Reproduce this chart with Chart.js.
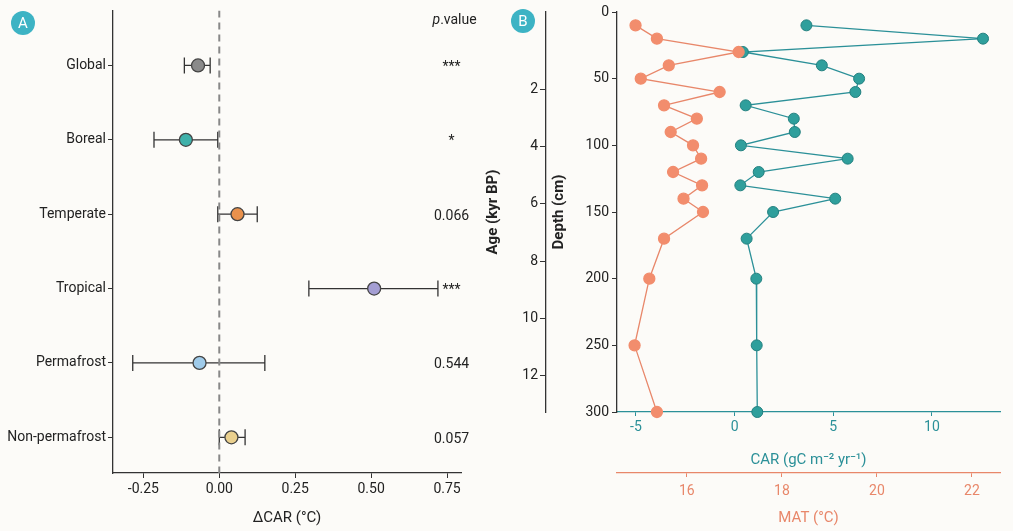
<!DOCTYPE html>
<html>
<head>
<meta charset="utf-8">
<script src="https://cdn.jsdelivr.net/npm/chart.js@4"></script>
<style>
  html, body { margin: 0; padding: 0; background: #fcfbf8; }
  #wrap { position: relative; width: 1013px; height: 531px; }
  #ca { position: absolute; left: 0; top: 0; }
  #cb { position: absolute; left: 480px; top: 0; }
</style>
</head>
<body>
<div id="wrap">
  <canvas id="ca" width="480" height="531"></canvas>
  <canvas id="cb" width="533" height="531"></canvas>
</div>
<script>
// panel A: effect sizes
const groups = ['Global', 'Boreal', 'Temperate', 'Tropical', 'Permafrost', 'Non-permafrost']
const means = [-0.07, -0.11, 0.06, 0.51, -0.065, 0.04]
const lower = [-0.115, -0.215, -0.005, 0.295, -0.285, 0.0]
const upper = [-0.03, -0.005, 0.125, 0.72, 0.15, 0.085]
const pvals = ['***', '*', '0.066', '***', '0.544', '0.057']
const groupColors = ['#8a8a8a', '#3fb1aa', '#e9914c', '#a49ed3', '#9fcbea', '#ead08e']
const xTicksA = [-0.25, 0, 0.25, 0.5, 0.75]

// panel B: core profile
const depth = [10, 20, 30, 40, 50, 60, 70, 80, 90, 100, 110, 120, 130, 140, 150, 170, 200, 250, 300]
const car = [3.64, 12.59, 0.42, 4.42, 6.31, 6.12, 0.56, 3.0, 3.05, 0.32, 5.73, 1.22, 0.29, 5.1, 1.95, 0.61, 1.1, 1.12, 1.15]
const mat = [14.92, 15.37, 17.09, 15.62, 15.03, 16.69, 15.52, 16.21, 15.66, 16.13, 16.3, 15.71, 16.32, 15.93, 16.34, 15.52, 15.21, 14.9, 15.37]
const depthTicks = [0, 50, 100, 150, 200, 250, 300]
const ageTicks = [2, 4, 6, 8, 10, 12]
const carTicks = [-5, 0, 5, 10]
const matTicks = [16, 18, 20, 22]

const FONT = 'Roboto, "Noto Sans", sans-serif'
Chart.defaults.font.family = FONT
Chart.defaults.font.size = 14
Chart.defaults.color = '#222'
Chart.defaults.animation = false

const TEAL = '#2b9098'
const TEAL_PT = '#2f9f9c'
const ORANGE = '#e8876a'
const ORANGE_PT = '#f28d6d'

function badge(ctx, x, y, letter) {
  ctx.save()
  ctx.fillStyle = '#3db3c4'
  ctx.beginPath()
  ctx.arc(x, y, 12, 0, Math.PI * 2)
  ctx.fill()
  ctx.fillStyle = '#fff'
  ctx.font = '15px ' + FONT
  ctx.textAlign = 'center'
  ctx.textBaseline = 'middle'
  ctx.fillText(letter, x, y + 1)
  ctx.restore()
}

const errorBars = {
  id: 'errorBars',
  beforeDatasetsDraw(chart) {
    const { ctx, scales: { x, y } } = chart
    ctx.save()
    ctx.strokeStyle = '#333'
    ctx.lineWidth = 1.3
    groups.forEach((g, i) => {
      const py = y.getPixelForValue(i + 1)
      const x0 = x.getPixelForValue(lower[i])
      const x1 = x.getPixelForValue(upper[i])
      ctx.beginPath()
      ctx.moveTo(x0, py); ctx.lineTo(x1, py)
      ctx.moveTo(x0, py - 8); ctx.lineTo(x0, py + 8)
      ctx.moveTo(x1, py - 8); ctx.lineTo(x1, py + 8)
      ctx.stroke()
    })
    ctx.restore()
  },
  afterDraw(chart) {
    const { ctx, scales: { x, y } } = chart
    const px = x.getPixelForValue(0.765)
    ctx.save()
    ctx.fillStyle = '#222'
    ctx.textBaseline = 'middle'
    ctx.font = 'italic 14px ' + FONT
    const w1 = ctx.measureText('p').width
    ctx.font = '14px ' + FONT
    const w2 = ctx.measureText('.value').width
    const sx = px - (w1 + w2) / 2 + 3
    ctx.textAlign = 'left'
    ctx.font = 'italic 14px ' + FONT
    ctx.fillText('p', sx, 20)
    ctx.font = '14px ' + FONT
    ctx.fillText('.value', sx + w1, 20)
    ctx.textAlign = 'center'
    pvals.forEach((p, i) => {
      ctx.fillText(p, px, y.getPixelForValue(i + 1) + 2)
    })
    ctx.restore()
    badge(ctx, 23, 23, 'A')
  }
}

new Chart(document.getElementById('ca'), {
  type: 'scatter',
  data: {
    datasets: [
      {
        type: 'line',
        data: [{ x: 0, y: 0.26 }, { x: 0, y: 6.48 }],
        borderColor: '#888',
        borderWidth: 2,
        borderDash: [7, 5],
        pointRadius: 0
      },
      {
        data: means.map((m, i) => ({ x: m, y: i + 1 })),
        backgroundColor: groupColors,
        borderColor: '#444',
        borderWidth: 1.3,
        pointRadius: 6.5
      }
    ]
  },
  options: {
    responsive: false,
    layout: { padding: { top: 10, right: 19 } },
    plugins: { legend: { display: false }, tooltip: { enabled: false } },
    scales: {
      x: {
        type: 'linear',
        min: -0.35,
        max: 0.796,
        afterBuildTicks: s => { s.ticks = xTicksA.map(v => ({ value: v })) },
        afterFit: s => { s.height = 58 },
        grid: { drawOnChartArea: false, color: '#333', tickLength: 5 },
        border: { color: '#333', width: 1.3 },
        ticks: { color: '#222', callback: v => v.toFixed(2) },
        title: { display: true, text: 'ΔCAR (°C)', color: '#222', font: { size: 15 }, padding: { top: 2 } }
      },
      y: {
        type: 'linear',
        reverse: true,
        min: 0.26,
        max: 6.48,
        afterBuildTicks: s => { s.ticks = groups.map((g, i) => ({ value: i + 1 })) },
        afterFit: s => { s.width = 113 },
        grid: { drawOnChartArea: false, color: '#333', tickLength: 5 },
        border: { color: '#333', width: 1.3 },
        ticks: { color: '#222', padding: 2, callback: v => groups[v - 1] }
      }
    }
  },
  plugins: [errorBars]
})

new Chart(document.getElementById('cb'), {
  type: 'line',
  data: {
    datasets: [
      {
        label: 'MAT',
        data: depth.map((d, i) => ({ x: mat[i], y: d })),
        xAxisID: 'xm',
        yAxisID: 'y',
        borderColor: ORANGE,
        borderWidth: 1.3,
        backgroundColor: ORANGE_PT,
        pointBorderColor: ORANGE_PT,
        pointRadius: 5.5
      },
      {
        label: 'CAR',
        data: depth.map((d, i) => ({ x: car[i], y: d })),
        xAxisID: 'x',
        yAxisID: 'y',
        borderColor: TEAL,
        borderWidth: 1.3,
        backgroundColor: TEAL_PT,
        pointBorderColor: '#23807f',
        pointBorderWidth: 1,
        pointRadius: 5.5
      }
    ]
  },
  options: {
    responsive: false,
    clip: false,
    layout: { padding: { top: 12, right: 13 } },
    plugins: { legend: { display: false }, tooltip: { enabled: false } },
    scales: {
      x: {
        type: 'linear',
        position: 'bottom',
        weight: 0,
        min: -5.96,
        max: 13.45,
        afterBuildTicks: s => { s.ticks = carTicks.map(v => ({ value: v })) },
        afterFit: s => { s.height = 61 },
        grid: { drawOnChartArea: false, color: TEAL, tickLength: 4 },
        border: { color: TEAL, width: 1.3 },
        ticks: { color: TEAL },
        title: {
          display: true,
          text: 'CAR (gC m⁻² yr⁻¹)',
          color: TEAL,
          font: { size: 15 },
          padding: { top: 0 }
        }
      },
      xm: {
        type: 'linear',
        position: 'bottom',
        weight: 1,
        min: 14.53,
        max: 22.59,
        afterBuildTicks: s => { s.ticks = matTicks.map(v => ({ value: v })) },
        afterFit: s => { s.height = 58 },
        grid: { drawOnChartArea: false, color: ORANGE, tickLength: 4 },
        border: { color: ORANGE, width: 1.3 },
        ticks: { color: ORANGE, padding: 6 },
        title: { display: true, text: 'MAT (°C)', color: ORANGE, font: { size: 15 }, padding: { top: 2 } }
      },
      y: {
        type: 'linear',
        position: 'left',
        weight: 0,
        reverse: true,
        min: 0,
        max: 300,
        afterBuildTicks: s => { s.ticks = depthTicks.map(v => ({ value: v })) },
        afterFit: s => { s.width = 71 },
        grid: { drawOnChartArea: false, color: '#333', tickLength: 5 },
        border: { color: '#333', width: 1.3 },
        ticks: { color: '#222' },
        title: { display: true, text: 'Depth (cm)', color: '#222', font: { size: 15, weight: 'bold' } }
      },
      y2: {
        type: 'linear',
        position: 'left',
        weight: 1,
        reverse: true,
        min: -0.7,
        max: 13.26,
        afterBuildTicks: s => { s.ticks = ageTicks.map(v => ({ value: v })) },
        afterFit: s => { s.width = 66 },
        grid: { drawOnChartArea: false, color: '#333', tickLength: 6 },
        border: { color: '#333', width: 1.3 },
        ticks: { color: '#222', padding: 2 },
        title: { display: true, text: 'Age (kyr BP)', color: '#222', font: { size: 15, weight: 'bold' } }
      }
    }
  },
  plugins: [{
    id: 'badgeB',
    afterDraw(chart) { badge(chart.ctx, 43, 21, 'B') }
  }]
})
</script>
</body>
</html>
